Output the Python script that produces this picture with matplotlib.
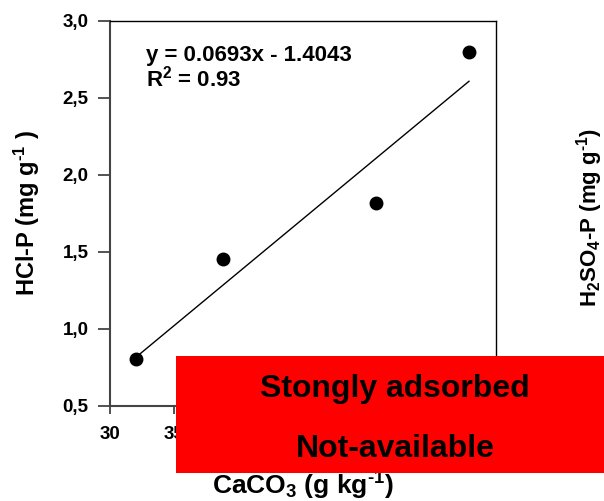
import matplotlib
matplotlib.use("Agg")
import matplotlib.pyplot as plt
from matplotlib.patches import Rectangle
import numpy as np

plt.rcParams["font.family"] = ["Liberation Sans", "DejaVu Sans"]
plt.rcParams["font.weight"] = "bold"
plt.rcParams["mathtext.fontset"] = "custom"
plt.rcParams["mathtext.rm"] = "Liberation Sans:bold"
plt.rcParams["mathtext.it"] = "Liberation Sans:bold"
plt.rcParams["mathtext.bf"] = "Liberation Sans:bold"

# data
caco3 = [32.0, 38.75, 50.7, 57.9]
hcl_p = [0.80, 1.45, 1.82, 2.80]
slope, intercept = 0.0693, -1.4043
r2 = 0.93

x_ticks = [30, 35, 40, 45, 50, 55, 60]
# labels past 35 sit under the red box in the original
x_tick_labels = ["30", "35", "", "", "", "", ""]
y_ticks = [0.5, 1.0, 1.5, 2.0, 2.5, 3.0]
y_tick_labels = ["0,5", "1,0", "1,5", "2,0", "2,5", "3,0"]

HY = "\u2010"  # plain hyphen in the superscripts

fig = plt.figure(figsize=(6.04, 5.01), dpi=100)
ax = fig.add_axes([0.1821, 0.1904, 0.6391, 0.7677])

ax.plot(caco3, hcl_p, "o", color="black", ms=9, zorder=3)
x_fit = np.array([min(caco3), max(caco3)])
ax.plot(x_fit, slope * x_fit + intercept, color="black", lw=1.0)

ax.set_xlim(30, 60)
ax.set_ylim(0.5, 3.0)
ax.set_xticks(x_ticks)
ax.set_xticklabels(x_tick_labels)
ax.set_yticks(y_ticks)
ax.set_yticklabels(y_tick_labels)
ax.tick_params(axis="both", labelsize=13.5, width=1.3, color="#444444")
ax.tick_params(axis="y", length=8.5, pad=7)
ax.tick_params(axis="x", length=6, pad=9)

for side in ["left", "bottom"]:
    ax.spines[side].set_linewidth(1.5)
    ax.spines[side].set_color("#444444")
for side in ["top", "right"]:
    ax.spines[side].set_linewidth(1.0)
    ax.spines[side].set_color("black")

ax.text(0.093, 0.897, f"y = {slope:.4f}x - {abs(intercept):.4f}",
        transform=ax.transAxes, fontsize=16, fontweight="bold", va="baseline")
ax.text(0.093, 0.829, f"R$^2$ = {r2:.2f}",
        transform=ax.transAxes, fontsize=16, fontweight="bold", va="baseline")

ax.set_xlabel("CaCO$_3$ (g kg$^{" + HY + "1}$)", fontsize=19, fontweight="bold")
ax.xaxis.set_label_coords(0.5, -0.168)
ax.set_ylabel("HCl-P (mg g$^{" + HY + "1}$ )", fontsize=17, fontweight="bold")
ax.yaxis.set_label_coords(-0.175, 0.5)

# neighbouring panel label, cut at the figure edge
fig.text(590 / 604, 1 - 217 / 501, "H$_2$SO$_4$-P (mg g$^{" + HY + "1}$)", rotation=90,
         ha="center", va="center", fontsize=16, fontweight="bold")

# red overlay box
fig.add_artist(Rectangle((0.2914, 0.0565), 0.7086, 0.2329, transform=fig.transFigure,
                         facecolor="#ff0000", edgecolor="none", zorder=10))
fig.text(0.654, 1 - 396.7 / 501, "Stongly adsorbed", ha="center", va="baseline",
         fontsize=23, fontweight="bold", zorder=11)
fig.text(0.654, 1 - 456.7 / 501, "Not-available", ha="center", va="baseline",
         fontsize=23, fontweight="bold", zorder=11)

fig.savefig("out.png", dpi=100)
